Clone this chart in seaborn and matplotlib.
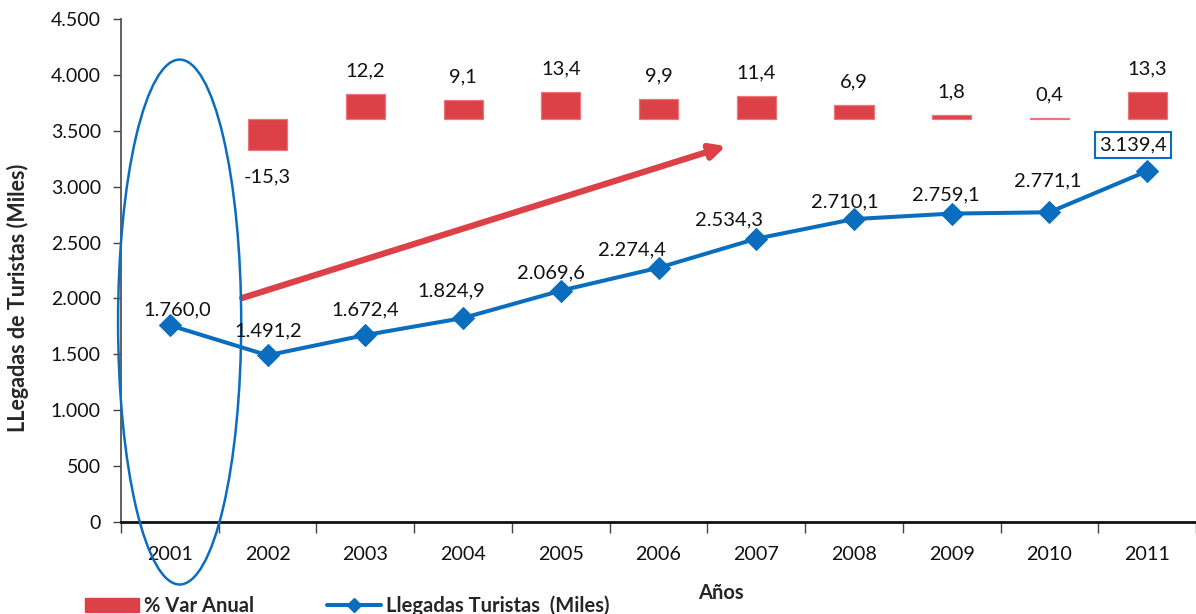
import matplotlib
matplotlib.use("Agg")
import matplotlib.pyplot as plt
import seaborn as sns
import numpy as np
from matplotlib.patches import Ellipse, Patch
from matplotlib.lines import Line2D
from matplotlib.ticker import FuncFormatter, FixedLocator

# data
years = [2001, 2002, 2003, 2004, 2005, 2006, 2007, 2008, 2009, 2010, 2011]
llegadas = [1760.0, 1491.2, 1672.4, 1824.9, 2069.6, 2274.4, 2534.3, 2710.1, 2759.1, 2771.1, 3139.4]
var_years = [2002, 2003, 2004, 2005, 2006, 2007, 2008, 2009, 2010, 2011]
var_anual = [-15.3, 12.2, 9.1, 13.4, 9.9, 11.4, 6.9, 1.8, 0.4, 13.3]
y_ticks = [0, 500, 1000, 1500, 2000, 2500, 3000, 3500, 4000, 4500]

# label offsets in pixels (dx, dy) relative to each marker
line_lbl_off = [(7, 15), (1, 24), (0, 25), (-12, 27), (-10, 18), (-27, 18),
                (-27, 19), (-9, 17), (-6, 19), (-2, 31), (-14, 26)]

BLUE = "#0A6DBE"
RED = "#DC4148"


def fmt_es(v, dec=1):
    s = f"{v:,.{dec}f}"
    return s.replace(",", "X").replace(".", ",").replace("X", ".")


sns.set_style("white")
plt.rcParams["font.family"] = ["Lato", "DejaVu Sans"]

fig = plt.figure(figsize=(11.96, 6.14), dpi=100)
ax = fig.add_axes([121 / 1196, 92 / 614, 1075 / 1196, 503 / 614])

pos = np.arange(len(years))
var_pos = np.array([years.index(y) for y in var_years])

# line
sns.lineplot(x=pos, y=llegadas, ax=ax, color=BLUE, linewidth=2.9, marker="D",
             markersize=11, markeredgecolor=BLUE, zorder=4)

ax.set_xlim(-0.5, 10.43)
ax.set_ylim(0, 4500)
ax.yaxis.set_major_locator(FixedLocator(y_ticks))
ax.yaxis.set_major_formatter(FuncFormatter(lambda v, p: fmt_es(v, 0)))
ax.set_xticks(pos)
ax.set_xticklabels([str(y) for y in years])
ax.set_xticks(np.arange(-0.5, 10.6, 1.0), minor=True)
ax.tick_params(axis="x", which="major", length=0, pad=17, labelsize=14.2, labelcolor="#111111")
ax.tick_params(axis="x", which="minor", length=8, width=1, color="#444444", bottom=True)
ax.tick_params(axis="y", which="major", length=5.5, width=1, color="#444444", left=True,
               labelsize=14, labelcolor="#111111", pad=9)

for s in ["top", "right"]:
    ax.spines[s].set_visible(False)
ax.spines["left"].set_color("#555555")
ax.spines["left"].set_linewidth(1.3)
ax.spines["bottom"].set_color("#111111")
ax.spines["bottom"].set_linewidth(2)

ax.set_ylabel("LLegadas de Turistas (Miles)", fontsize=15.5, fontweight="bold")
ax.yaxis.set_label_coords(-0.086, 0.445)
ax.set_xlabel("Años", fontsize=14.5, fontweight="bold")
ax.xaxis.set_label_coords(0.558, -0.121)

# line labels
for i, (x, v) in enumerate(zip(pos, llegadas)):
    dx, dy = line_lbl_off[i]
    kw = {}
    if i == len(llegadas) - 1:
        kw["bbox"] = dict(boxstyle="square,pad=0.22", fc="white", ec=BLUE, lw=1.5)
    ax.annotate(fmt_es(v), (x, v), xytext=(dx, dy), textcoords="offset pixels",
                ha="center", va="center", fontsize=14.5, color="#111111", zorder=6, **kw)

# bars on hidden secondary axis
ax2 = ax.twinx()
sns.barplot(x=var_pos, y=var_anual, ax=ax2, native_scale=True, orient="x",
            width=0.4, color=RED, saturation=1, errorbar=None,
            edgecolor="#E8767B", linewidth=0.9)
ax2.set_ylim(-196.6, 48.8)
ax2.set_xlim(ax.get_xlim())
ax2.axis("off")
for x, v in zip(var_pos, var_anual):
    off = 23 if v >= 0 else -26
    ax2.annotate(fmt_es(v), (x, v), xytext=(0, off), textcoords="offset pixels",
                 ha="center", va="center", fontsize=14.5, color="#111111")

# ellipse around 2001 and trend arrow
ax.add_patch(Ellipse((0.1, 1789), 1.26, 4696, fill=False, edgecolor=BLUE, lw=1.8,
                     clip_on=False, zorder=5))
ax.annotate("", xy=(5.69, 3363), xytext=(0.74, 2004),
            arrowprops=dict(arrowstyle="-|>", lw=4.5, color=RED, mutation_scale=22,
                            shrinkA=0, shrinkB=0), zorder=3)

# legend
handles = [Patch(facecolor=RED, edgecolor=RED),
           Line2D([], [], color=BLUE, lw=2.9, marker="D", markersize=7)]
fig.legend(handles, ["% Var Anual", "Llegadas Turistas  (Miles)"], loc="center left",
           bbox_to_anchor=(85 / 1196, 1 - 606 / 614), ncol=2, frameon=False,
           prop=dict(weight="bold", size=14.5), handlelength=2.7, handleheight=0.7,
           handletextpad=0.25, columnspacing=3.6, borderpad=0, borderaxespad=0)

fig.savefig("out.png", dpi=100)
